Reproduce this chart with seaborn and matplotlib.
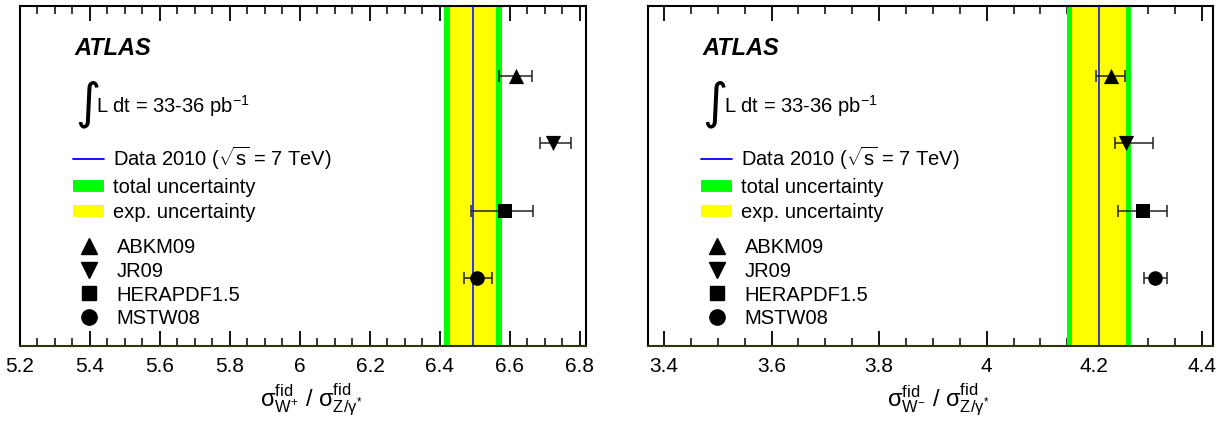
import numpy as np
import pandas as pd
import matplotlib
matplotlib.use("Agg")
import matplotlib.pyplot as plt
from matplotlib.lines import Line2D
from matplotlib.ticker import MultipleLocator
import seaborn as sns

# --- data ---
pdfs = ["ABKM09", "JR09", "HERAPDF1.5", "MSTW08"]
ypos = [4, 3, 2, 1]

wplus_pred = [6.616, 6.722, 6.587, 6.507]
wplus_lo = [6.570, 6.685, 6.489, 6.470]
wplus_hi = [6.663, 6.774, 6.666, 6.549]
wplus_data = 6.494
wplus_exp = 0.065
wplus_tot = 0.082

wminus_pred = [4.231, 4.259, 4.290, 4.313]
wminus_lo = [4.204, 4.238, 4.245, 4.292]
wminus_hi = [4.257, 4.309, 4.336, 4.336]
wminus_data = 4.209
wminus_exp = 0.050
wminus_tot = 0.059

markers = {"ABKM09": "^", "JR09": "v", "HERAPDF1.5": "s", "MSTW08": "o"}
sizes = {"ABKM09": 120, "JR09": 120, "HERAPDF1.5": 95, "MSTW08": 110}

# --- style ---
sns.set_style("ticks")
plt.rcParams["font.family"] = ["Liberation Sans", "DejaVu Sans"]
plt.rcParams["mathtext.fontset"] = "custom"
plt.rcParams["mathtext.rm"] = "Liberation Sans"
plt.rcParams["mathtext.it"] = "Liberation Sans:italic"
plt.rcParams["mathtext.bf"] = "Liberation Sans:bold"
for k in ["text.color", "axes.labelcolor", "xtick.color", "ytick.color"]:
    plt.rcParams[k] = "black"

fig = plt.figure(figsize=(12.26, 4.22), dpi=100)
ax1 = fig.add_axes([0.0163, 0.180, 0.4613, 0.806])
ax2 = fig.add_axes([0.5285, 0.180, 0.4605, 0.806])


def draw_panel(ax, pred, lo, hi, data, exp, tot, xlim, xlabel):
    ax.axvspan(data - tot, data + tot, color="#00ff00", lw=0, zorder=1)
    ax.axvspan(data - exp, data + exp, color="#ffff00", lw=0, zorder=2)
    ax.axvline(data, color="#0000ff", lw=1.1, zorder=3)

    df = pd.DataFrame({"pdf": pdfs, "x": pred, "y": ypos})
    err = np.array([np.array(pred) - np.array(lo), np.array(hi) - np.array(pred)])
    ax.errorbar(df["x"], df["y"], xerr=err, fmt="none", ecolor="#222222",
                elinewidth=1.1, capsize=4, capthick=1.1, zorder=4)
    for p in pdfs:
        sub = df[df["pdf"] == p]
        sns.scatterplot(data=sub, x="x", y="y", marker=markers[p], s=sizes[p],
                        color="black", edgecolor="black", linewidth=0,
                        ax=ax, legend=False, zorder=5)

    ax.set_xlim(*xlim)
    ax.set_ylim(0, 5.03)
    ax.set_yticks([])
    ax.set_ylabel("")
    ax.xaxis.set_major_locator(MultipleLocator(0.2))
    ax.xaxis.set_minor_locator(MultipleLocator(0.05))
    ax.xaxis.set_major_formatter(plt.FuncFormatter(lambda v, _: f"{v:g}"))
    ax.tick_params(axis="x", which="major", direction="in", length=11, width=1.3,
                   top=True, labelsize=15, pad=8)
    ax.tick_params(axis="x", which="minor", direction="in", length=6, width=1.1,
                   top=True)
    for s in ax.spines.values():
        s.set_linewidth(1.5)
        s.set_color("black")
    ax.spines["bottom"].set_color("#2f3510")
    ax.set_xlabel(xlabel, fontsize=17)
    ax.xaxis.set_label_coords(0.515, -0.105)

    ax.text(0.097, 0.875, "ATLAS", transform=ax.transAxes, fontsize=17,
            fontweight="bold", fontstyle="italic", va="center", ha="left")
    ax.text(0.097, 0.713, "\u222b", transform=ax.transAxes, fontsize=35,
            family="DejaVu Sans", va="center", ha="left")
    ax.text(0.135, 0.705, r"L dt = 33-36 pb$^{\mathregular{-1}}$",
            transform=ax.transAxes, fontsize=14.5, va="center", ha="left")

    h1 = [Line2D([], [], color="#0000ff", lw=1.3),
          Line2D([], [], color="#00ff00", lw=8.5, solid_capstyle="butt"),
          Line2D([], [], color="#ffff00", lw=8.5, solid_capstyle="butt")]
    l1 = [r"Data 2010 ($\mathregular{\sqrt{s}}$ = 7 TeV)",
          "total uncertainty", "exp. uncertainty"]
    leg1 = ax.legend(h1, l1, loc="center left", bbox_to_anchor=(0.094, 0.478),
                     frameon=False, fontsize=14.5, handlelength=1.55,
                     handletextpad=0.45, labelspacing=0.3, borderpad=0,
                     borderaxespad=0)
    ax.add_artist(leg1)

    h2 = [Line2D([], [], ls="none", marker=markers[p], color="black",
                 markersize=11 if p != "HERAPDF1.5" else 10) for p in pdfs]
    ax.legend(h2, pdfs, loc="center left", bbox_to_anchor=(0.105, 0.185),
              frameon=False, fontsize=14.5, handlelength=1.0,
              handletextpad=0.85, labelspacing=0.24, borderpad=0,
              borderaxespad=0)


draw_panel(ax1, wplus_pred, wplus_lo, wplus_hi, wplus_data, wplus_exp,
           wplus_tot, (5.2, 6.816),
           r"$\mathregular{\sigma^{fid}_{W^{+}}}$ / $\mathregular{\sigma^{fid}_{Z/\gamma^{*}}}$")
draw_panel(ax2, wminus_pred, wminus_lo, wminus_hi, wminus_data, wminus_exp,
           wminus_tot, (3.370, 4.420),
           r"$\mathregular{\sigma^{fid}_{W^{-}}}$ / $\mathregular{\sigma^{fid}_{Z/\gamma^{*}}}$")

fig.savefig("out.png", dpi=100)
